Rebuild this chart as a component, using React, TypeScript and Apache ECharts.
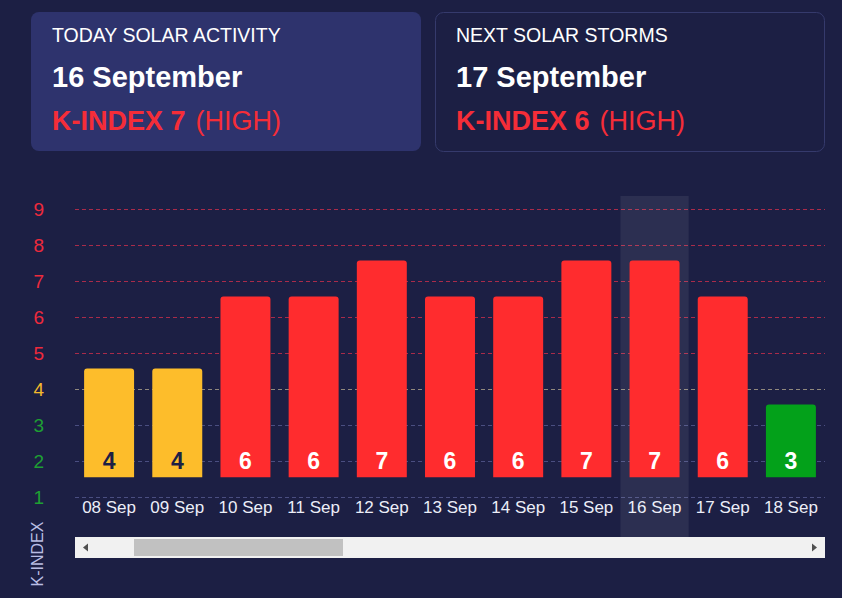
import React, { useEffect, useRef } from "react";
import * as echarts from "echarts";

const categories = ["08 Sep", "09 Sep", "10 Sep", "11 Sep", "12 Sep", "13 Sep", "14 Sep", "15 Sep", "16 Sep", "17 Sep", "18 Sep"];
const kIndex = [4, 4, 6, 6, 7, 6, 6, 7, 7, 6, 3];
const todayLabel = "16 Sep";
const yTicks = [1, 2, 3, 4, 5, 6, 7, 8, 9];

const cardTitles = ["TODAY SOLAR ACTIVITY", "NEXT SOLAR STORMS"];
const cardDates = ["16 September", "17 September"];
const cardIndex = [7, 6];
const cardLevels = ["(HIGH)", "(HIGH)"];

const BG = "#1c1f44";
const RED = "#ff2c2e";
const YELLOW = "#fdbd2b";
const GREEN = "#03a11a";
const FONT = "Arial, 'Liberation Sans', sans-serif";

function barColor(v: number) {
  if (v >= 5) return RED;
  if (v === 4) return YELLOW;
  return GREEN;
}
function axisColor(v: number) {
  if (v >= 5) return "#ee2a3c";
  if (v === 4) return "#f4b92c";
  return "#1e9f33";
}
function gridColor(v: number) {
  if (v >= 5) return "#d8304c";
  if (v === 4) return "#b8ad90";
  return "#5a5f95";
}

export default function App() {
  const ref = useRef<HTMLDivElement>(null);
  useEffect(() => {
    if (!ref.current) return;
    const chart = echarts.init(ref.current, null, { renderer: "svg" });
    const todayIndex = categories.indexOf(todayLabel);

    const cardX = [31, 435];
    const graphics: any[] = [];
    cardX.forEach((x, i) => {
      graphics.push({
        type: "rect",
        shape: { x: i === 0 ? x : x + 0.5, y: i === 0 ? 12 : 12.5, width: i === 0 ? 390 : 389, height: 139, r: 8 },
        style: i === 0 ? { fill: "#2e336d" } : { fill: "transparent", stroke: "#353a6c", lineWidth: 1 },
        z: 0,
      });
      graphics.push({
        type: "text",
        x: x + 21,
        y: 35,
        style: { text: cardTitles[i], fill: "#ffffff", font: `19.5px ${FONT}`, verticalAlign: "middle" },
      });
      graphics.push({
        type: "text",
        x: x + 21,
        y: 77,
        style: { text: cardDates[i], fill: "#ffffff", font: `bold 29px ${FONT}`, verticalAlign: "middle" },
      });
      graphics.push({
        type: "text",
        x: x + 21,
        y: 121,
        style: {
          text: `{b|K-INDEX ${cardIndex[i]}}{n|${cardLevels[i]}}`,
          verticalAlign: "middle",
          rich: {
            b: { fill: "#f52d38", font: `bold 27px ${FONT}` },
            n: { fill: "#f52d38", font: `27px ${FONT}`, padding: [0, 0, 0, 10] },
          },
        },
      });
    });

    // y axis name
    graphics.push({
      type: "text",
      x: 37,
      y: 554,
      rotation: Math.PI / 2,
      style: { text: "K-INDEX", fill: "#b9bde3", font: `16px ${FONT}`, align: "center", verticalAlign: "middle" },
    });
    // scrollbar
    graphics.push({ type: "rect", shape: { x: 75, y: 537, width: 750, height: 21 }, style: { fill: "#f1f1f1" } });
    graphics.push({ type: "rect", shape: { x: 134, y: 539, width: 209, height: 17 }, style: { fill: "#c1c1c1" } });
    graphics.push({ type: "polygon", shape: { points: [[83, 547.5], [88, 543.5], [88, 551.5]] }, style: { fill: "#505050" } });
    graphics.push({ type: "polygon", shape: { points: [[817, 547.5], [812, 543.5], [812, 551.5]] }, style: { fill: "#505050" } });

    chart.setOption({
      animation: false,
      backgroundColor: BG,
      grid: { left: 75, right: 17, top: 209, bottom: 101 },
      xAxis: {
        type: "category",
        data: categories,
        axisLine: { show: false },
        axisTick: { show: false },
        axisLabel: { color: "#eceef8", fontSize: 17, fontFamily: FONT, margin: 2, interval: 0 },
      },
      yAxis: {
        type: "value",
        min: 1,
        max: 9,
        interval: 1,
        axisLine: { show: false },
        axisTick: { show: false },
        axisLabel: {
          fontSize: 19,
          fontFamily: FONT,
          margin: 31,
          color: (v: any) => axisColor(Number(v)),
        },
        splitLine: { show: false },
      },
      series: [
        {
          type: "custom",
          name: "grid",
          silent: true,
          data: yTicks.map((t) => [0, t]),
          encode: { x: 0, y: 1 },
          z: 0,
          renderItem: (params: any, api: any) => {
            const t = api.value(1);
            const y = Math.round(api.coord([0, t])[1]) + 0.5;
            const cs = params.coordSys;
            return {
              type: "line",
              shape: { x1: cs.x, y1: y, x2: cs.x + cs.width, y2: y },
              style: { stroke: gridColor(t), lineWidth: 1, lineDash: [4, 3], opacity: 0.75 },
            };
          },
        },
        {
          type: "custom",
          name: "today",
          silent: true,
          data: [[todayIndex, 1]],
          encode: { x: 0, y: 1 },
          z: 1,
          renderItem: (params: any, api: any) => {
            const c = api.coord([api.value(0), 1]);
            const w = api.size([1, 0])[0];
            const cs = params.coordSys;
            return {
              type: "rect",
              shape: { x: c[0] - w / 2, y: cs.y - 13, width: w, height: cs.height + 13 + 40 },
              style: { fill: "rgba(255,255,255,0.075)" },
            };
          },
        },
        {
          type: "custom",
          name: "K-INDEX",
          data: kIndex.map((v, i) => [i, v]),
          encode: { x: 0, y: 1 },
          z: 3,
          renderItem: (params: any, api: any) => {
            const i = api.value(0);
            const v = api.value(1);
            const base = api.coord([i, 1.55]);
            const top = api.coord([i, v + 0.57]);
            const w = api.size([1, 0])[0] * 0.733;
            return {
              type: "group",
              children: [
                {
                  type: "rect",
                  shape: { x: base[0] - w / 2, y: top[1], width: w, height: base[1] - top[1], r: [3, 3, 0, 0] },
                  style: { fill: barColor(v) },
                },
                {
                  type: "text",
                  x: base[0],
                  y: base[1] - 16,
                  style: {
                    text: String(v),
                    fill: v === 4 ? "#1c1f44" : "#ffffff",
                    font: `bold 23px ${FONT}`,
                    align: "center",
                    verticalAlign: "middle",
                  },
                },
              ],
            };
          },
        },
      ],
      graphic: graphics,
    });
    return () => chart.dispose();
  }, []);
  return (
    <div
      ref={ref}
      style={{ position: "fixed", left: 0, top: 0, width: 842, height: 598, background: BG }}
    />
  );
}
